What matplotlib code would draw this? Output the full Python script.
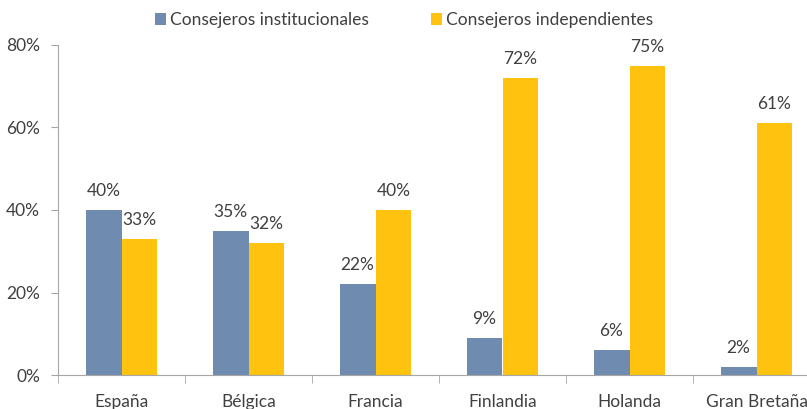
import numpy as np
import matplotlib.pyplot as plt
from matplotlib.ticker import FixedLocator

# Data
countries = ['España', 'Bélgica', 'Francia', 'Finlandia', 'Holanda', 'Gran Bretaña']
institucionales = [40, 35, 22, 9, 6, 2]
independientes = [33, 32, 40, 72, 75, 61]
yticks = [0, 20, 40, 60, 80]

blue = '#6F8BAF'
yellow = '#FFC20E'
grey = '#A6A6A6'
textc = '#404040'

plt.rcParams['font.family'] = ['Lato', 'DejaVu Sans']

fig = plt.figure(figsize=(8.07, 4.09), dpi=100)
ax = fig.add_axes([58 / 807, 34 / 409, 762 / 807, 330 / 409])

x = np.arange(len(countries))
w = 0.283
b1 = ax.bar(x - w / 2, institucionales, w, color=blue, label='Consejeros institucionales')
b2 = ax.bar(x + w / 2, independientes, w, color=yellow, label='Consejeros independientes')

for bars, vals in [(b1, institucionales), (b2, independientes)]:
    for rect, v in zip(bars, vals):
        ax.annotate(f'{v}%', (rect.get_x() + rect.get_width() / 2, v),
                    xytext=(0, 8), textcoords='offset points',
                    ha='center', va='bottom', fontsize=12.5, color=textc)

ax.set_xlim(-0.5, len(countries) - 0.5)
ax.set_ylim(0, 80)
ax.set_yticks(yticks)
ax.set_yticklabels([f'{t}%' for t in yticks], fontsize=12.5, color=textc)

ax.set_xticks(x)
ax.set_xticklabels(countries, fontsize=12.5, color=textc)
ax.tick_params(axis='x', which='major', length=0, pad=14)
ax.xaxis.set_minor_locator(FixedLocator(np.arange(-0.5, len(countries), 1)))
ax.tick_params(axis='x', which='minor', length=6, color=grey, direction='out')
ax.tick_params(axis='y', length=5, color=grey, pad=8)

for s in ['top', 'right']:
    ax.spines[s].set_visible(False)
ax.spines['left'].set_color(grey)
ax.spines['bottom'].set_color(grey)

fig.legend(handles=[b1, b2], loc='center', bbox_to_anchor=(404 / 807, 1 - 20 / 409),
           ncol=2, frameon=False, fontsize=12.5, handlelength=0.65, handleheight=0.65,
           handletextpad=0.2, columnspacing=3.6, labelcolor=textc)

fig.savefig('out.png', dpi=100)
